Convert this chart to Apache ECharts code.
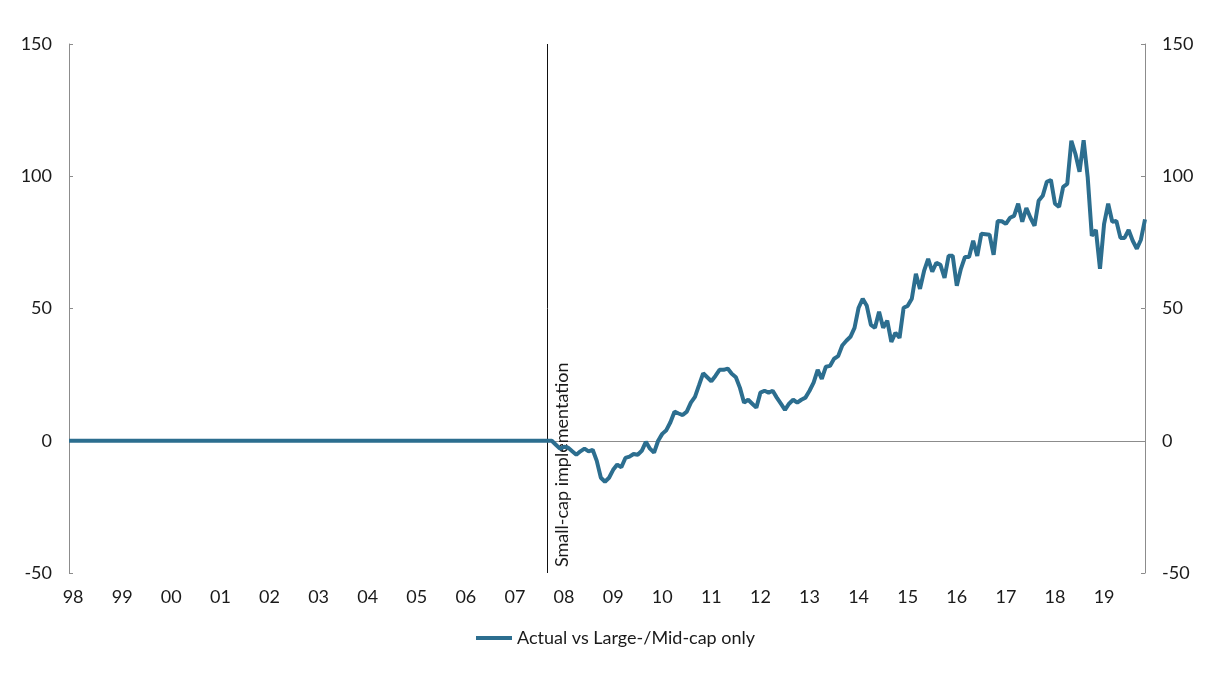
<!DOCTYPE html>
<html>
<head>
<meta charset="utf-8">
<script src="https://cdn.jsdelivr.net/npm/echarts@6/dist/echarts.min.js"></script>
<style>
html,body{margin:0;padding:0;background:#fff;}
#chart{width:1206px;height:678px;}
</style>
</head>
<body>
<div id="chart"></div>
<script>
// Tick labels (years, shown once per year)
const yearLabels = ['98','99','00','01','02','03','04','05','06','07','08','09','10','11','12','13','14','15','16','17','18','19'];
const seriesName = 'Actual vs Large-/Mid-cap only';
const markerLabel = 'Small-cap implementation';
const markerIndex = 117; // month index of the small-cap implementation marker

// Monthly values Jan 1998 .. Dec 2019 (flat zero before implementation)
const preImplementation = new Array(119).fill(0);
const postImplementation = [
  -1.5, -3, -2.3, -2.6, -4, -5.3, -4, -3, -4, -3.4,
  -7.6, -14, -15.5, -14, -11, -9, -10, -6.5, -6, -5,
  -5.3, -3.8, -0.4, -3, -4.5, 0, 2.6, 4, 7, 11,
  10.3, 9.7, 11, 14.4, 16.6, 21, 25.5, 24, 22.5, 24.5,
  26.8, 26.8, 27.3, 25.3, 24, 20, 14.4, 15.5, 14, 12.5,
  18.2, 18.9, 18.2, 18.9, 16.3, 14, 11.7, 14, 15.5, 14.4,
  15.5, 16.3, 18.9, 22, 26.8, 23.4, 28, 28.3, 31, 32,
  36, 37.8, 39.3, 42.7, 50.3, 53.7, 51, 43.8, 42.7, 48.8,
  42.7, 45.4, 37.4, 40.8, 38.9, 50.3, 51, 53.7, 63.1, 57.4,
  64.2, 68.8, 63.9, 67.3, 66.5, 61.6, 69.9, 69.9, 58.6, 65,
  69.5, 69.5, 75.6, 69.9, 78.3, 78.1, 77.9, 70.3, 83.1, 83,
  82, 84.3, 85, 89.6, 82.8, 88, 84.3, 81.3, 90.7, 92.6,
  97.9, 98.6, 89.6, 88.4, 96, 97.1, 113.4, 108.4, 101.7, 113.6,
  99.5, 77.5, 79.7, 65, 82, 89.6, 82.8, 83.1, 76.7, 76.7,
  79.7, 75.6, 72.6, 76, 83.7
];
const values = preImplementation.concat(postImplementation);

// Category per month
const months = [];
for (let y = 0; y < yearLabels.length; y++) {
  for (let m = 1; m <= 12; m++) {
    months.push(yearLabels[y] + '-' + String(m).padStart(2, '0'));
  }
}

const FONT = 'Lato, "Open Sans", sans-serif';
const AXIS_GRAY = '#8c8c8c';
const LINE_COLOR = '#2c6e8f';
const TEXT_COLOR = '#1a1a1a';

const yAxisCommon = {
  type: 'value',
  min: -50,
  max: 150,
  interval: 50,
  splitLine: { show: false },
  axisLine: { show: true, lineStyle: { color: AXIS_GRAY, width: 1 } },
  axisTick: { show: true, inside: true, length: 4, lineStyle: { color: AXIS_GRAY } },
  axisLabel: { color: TEXT_COLOR, fontSize: 18, fontFamily: FONT, margin: 17 }
};

const chart = echarts.init(document.getElementById('chart'), null, { renderer: 'canvas' });
chart.setOption({
  animation: false,
  backgroundColor: '#ffffff',
  grid: { left: 69, right: 61, top: 44, bottom: 105, containLabel: false },
  legend: {
    data: [{ name: seriesName, icon: 'rect' }],
    bottom: 26,
    left: 471,
    itemWidth: 36,
    itemHeight: 4,
    textStyle: { color: TEXT_COLOR, fontSize: 18, fontFamily: FONT }
  },
  xAxis: {
    type: 'category',
    data: months,
    boundaryGap: false,
    axisLine: { show: false },
    axisTick: { show: false },
    axisLabel: {
      interval: function (idx) { return idx % 12 === 1; },
      formatter: function (val, idx) { return yearLabels[Math.floor(idx / 12)]; },
      color: TEXT_COLOR,
      fontSize: 18,
      fontFamily: FONT,
      margin: 15
    },
    splitLine: { show: false }
  },
  yAxis: [
    Object.assign({}, yAxisCommon, { position: 'left' }),
    Object.assign({}, yAxisCommon, { position: 'right' })
  ],
  series: [{
    name: seriesName,
    type: 'line',
    data: values,
    showSymbol: false,
    symbol: 'none',
    lineStyle: { color: LINE_COLOR, width: 4 },
    itemStyle: { color: LINE_COLOR },
    z: 5,
    markLine: {
      silent: true,
      symbol: ['none', 'none'],
      animation: false,
      data: [
        {
          yAxis: 0,
          lineStyle: { color: AXIS_GRAY, width: 1, type: 'solid' },
          label: { show: false }
        },
        {
          xAxis: markerIndex,
          lineStyle: { color: '#111111', width: 1, type: 'solid' },
          label: {
            show: true,
            formatter: markerLabel,
            position: 'insideStartBottom',
            color: TEXT_COLOR,
            fontSize: 18,
            fontFamily: FONT,
            distance: 6
          }
        }
      ]
    }
  }]
});
</script>
</body>
</html>
